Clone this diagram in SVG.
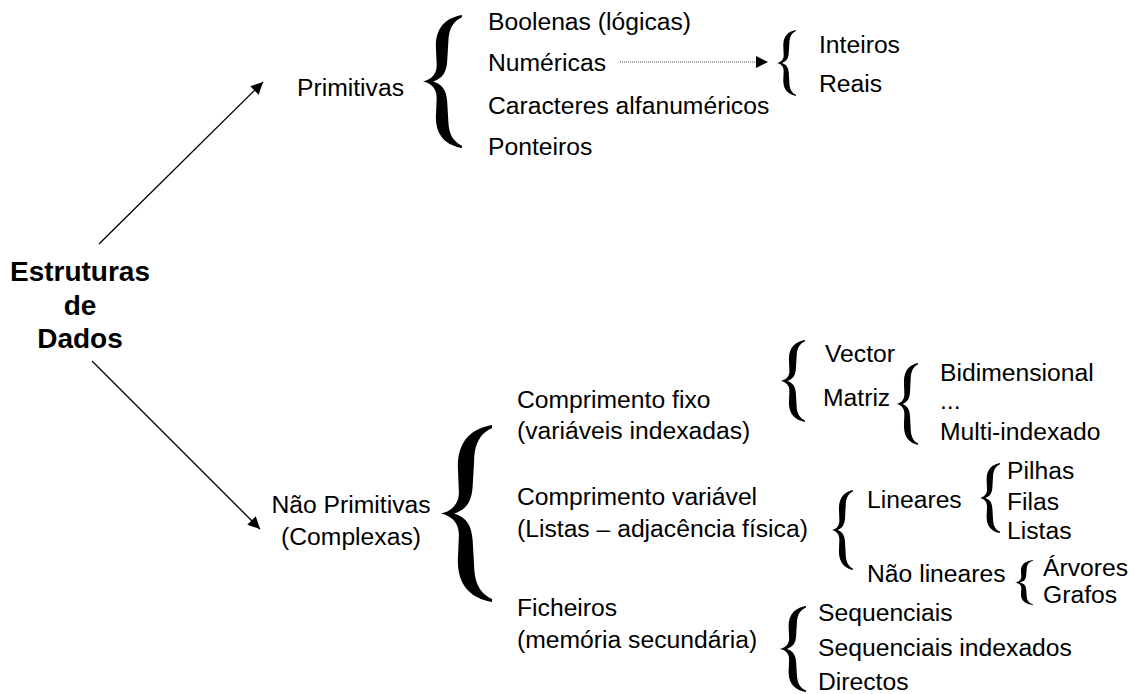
<svg xmlns="http://www.w3.org/2000/svg" width="1135" height="694" viewBox="0 0 1135 694">
<style>
text{font-family:"Liberation Sans",Arial,sans-serif;font-size:24.7px;fill:#000}
.b{font-weight:bold;font-size:28px;text-anchor:middle}
.c{text-anchor:middle}
.br{fill:#000;stroke:none}
.ln{stroke:#000;stroke-width:1.3;fill:none}
.dot{stroke:#555;stroke-width:1.2;stroke-dasharray:1 1;fill:none}
</style>
<defs>
<path id="brace" d="M100,0 C62,6 33,25 33,70 L35,112 C36,133 22,146 0,150 C22,154 36,167 35,188 L33,230 C33,275 62,294 100,300 L100,295 C80,287 66,272 65,240 L62,195 C60,170 50,157 26,150 C50,143 60,130 62,105 L65,60 C66,28 80,13 100,5 Z"/>
<marker id="ah" viewBox="0 0 10 10" refX="10" refY="5" markerWidth="16" markerHeight="12" markerUnits="userSpaceOnUse" orient="auto"><path d="M0,0 L10,5 L0,10 Z" fill="#000"/></marker>
<marker id="ah2" viewBox="0 0 10 10" refX="10" refY="5" markerWidth="13" markerHeight="12" markerUnits="userSpaceOnUse" orient="auto"><path d="M0,0 L10,5 L0,10 Z" fill="#000"/></marker>
</defs>

<g id="connectors">
<line class="ln" x1="99" y1="244" x2="263" y2="82" marker-end="url(#ah)"/>
<line class="ln" x1="92" y1="361" x2="260" y2="529" marker-end="url(#ah)"/>
<line class="dot" x1="620" y1="62" x2="768" y2="62" marker-end="url(#ah2)"/>
</g>

<g id="root">
<text class="b" x="80" y="281">Estruturas</text>
<text class="b" x="80" y="315">de</text>
<text class="b" x="80" y="348">Dados</text>
</g>

<g id="primitivas">
<text x="297" y="96">Primitivas</text>
<use href="#brace" class="br" transform="translate(423,15) scale(0.39,0.443)"/>
</g>
<g id="boolenas"><text x="488" y="30">Boolenas (lógicas)</text></g>
<g id="numericas"><text x="488" y="71">Numéricas</text></g>
<g id="caracteres"><text x="488" y="114">Caracteres alfanuméricos</text></g>
<g id="ponteiros"><text x="488" y="155">Ponteiros</text></g>
<g id="num-tipos">
<use href="#brace" class="br" transform="translate(777,30) scale(0.19,0.22)"/>
<text x="819" y="53">Inteiros</text>
<text x="819" y="92">Reais</text>
</g>

<g id="nao-primitivas">
<text class="c" x="351" y="513">Não Primitivas</text>
<text class="c" x="351" y="545">(Complexas)</text>
<use href="#brace" class="br" transform="translate(441,425) scale(0.51,0.59)"/>
</g>

<g id="comprimento-fixo">
<text x="517" y="408">Comprimento fixo</text>
<text x="517" y="439">(variáveis indexadas)</text>
<use href="#brace" class="br" transform="translate(781,340) scale(0.24,0.2733)"/>
</g>
<g id="vector"><text x="825" y="362">Vector</text></g>
<g id="matriz">
<text x="823" y="406">Matriz</text>
<use href="#brace" class="br" transform="translate(897,363) scale(0.21,0.2733)"/>
<text x="940" y="381">Bidimensional</text>
<text x="940" y="409">...</text>
<text x="940" y="440">Multi-indexado</text>
</g>

<g id="comprimento-variavel">
<text x="517" y="505">Comprimento variável</text>
<text x="517" y="537">(Listas – adjacência física)</text>
<use href="#brace" class="br" transform="translate(832,490) scale(0.21,0.2667)"/>
</g>
<g id="lineares">
<text x="867" y="508">Lineares</text>
<use href="#brace" class="br" transform="translate(980,463) scale(0.2,0.2333)"/>
<text x="1007" y="479">Pilhas</text>
<text x="1007" y="510">Filas</text>
<text x="1007" y="539">Listas</text>
</g>
<g id="nao-lineares">
<text x="867" y="582">Não lineares</text>
<use href="#brace" class="br" transform="translate(1015,560) scale(0.18,0.15)"/>
<text x="1043" y="576">Árvores</text>
<text x="1043" y="603">Grafos</text>
</g>

<g id="ficheiros">
<text x="517" y="616">Ficheiros</text>
<text x="517" y="648">(memória secundária)</text>
<use href="#brace" class="br" transform="translate(780,606) scale(0.26,0.2867)"/>
<text x="818" y="621">Sequenciais</text>
<text x="818" y="656">Sequenciais indexados</text>
<text x="818" y="690">Directos</text>
</g>
</svg>
